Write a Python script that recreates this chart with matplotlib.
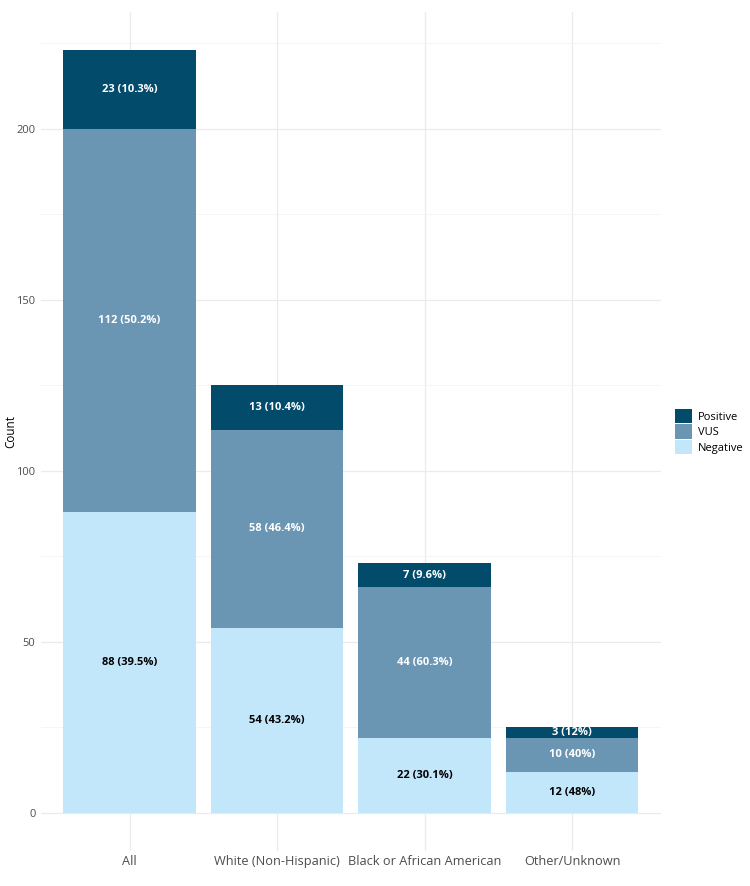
import numpy as np
import matplotlib.pyplot as plt
from matplotlib.patches import Patch
from matplotlib.ticker import MultipleLocator

plt.rcParams['font.family'] = ['Open Sans', 'DejaVu Sans']

# Datos
groups = ['All', 'White (Non-Hispanic)', 'Black or African American', 'Other/Unknown']
negative = [88, 54, 22, 12]
vus = [112, 58, 44, 10]
positive = [23, 13, 7, 3]

series = [('Negative', negative, '#C2E6FA', 'black'),
          ('VUS', vus, '#6A96B4', 'white'),
          ('Positive', positive, '#024B6B', 'white')]

totals = np.array(negative) + np.array(vus) + np.array(positive)
x = np.arange(1, len(groups) + 1)

fig = plt.figure(figsize=(7.5, 8.86), dpi=100)
ax = fig.add_axes([0.0547, 0.0395, 0.8260, 0.9470])

bottom = np.zeros(len(groups))
for name, vals, color, tcolor in series:
    vals = np.array(vals)
    ax.bar(x, vals, bottom=bottom, width=0.9, color=color, zorder=2)
    for xi, b, v, t in zip(x, bottom, vals, totals):
        pct = round(100 * v / t, 1)
        ax.text(xi, b + v / 2, f"{v} ({pct:g}%)", ha='center', va='center',
                fontsize=8, fontweight='bold', color=tcolor, zorder=3)
    bottom = bottom + vals

ymax = totals.max()
ax.set_ylim(-0.05 * ymax, 1.05 * ymax)
ax.set_xlim(0.4, 4.6)
ax.set_xticks(x)
ax.set_xticklabels(groups, fontsize=9.2, color='#4D4D4D')
ax.yaxis.set_major_locator(MultipleLocator(50))
ax.yaxis.set_minor_locator(MultipleLocator(25))
ax.tick_params(axis='y', labelsize=8, colors='#4D4D4D')
ax.tick_params(axis='both', which='both', length=0, pad=4)
ax.tick_params(axis='x', pad=3)
ax.set_ylabel('Count', fontsize=8.5, va='center')
ax.yaxis.set_label_coords(-0.049, 0.5)

ax.grid(True, which='major', color='#EBEBEB', linewidth=0.9, zorder=0)
ax.grid(True, which='minor', axis='y', color='#F2F2F2', linewidth=0.5, zorder=0)
ax.set_axisbelow(True)
for s in ax.spines.values():
    s.set_visible(False)

handles = [Patch(facecolor=c, label=n) for n, _, c, _ in reversed(series)]
fig.legend(handles=handles, loc='center left', bbox_to_anchor=(0.886, 0.513),
           frameon=False, fontsize=8, handlelength=1.6, handleheight=1.6,
           handletextpad=0.5, labelspacing=0.1)

fig.savefig('out.png', dpi=100)
